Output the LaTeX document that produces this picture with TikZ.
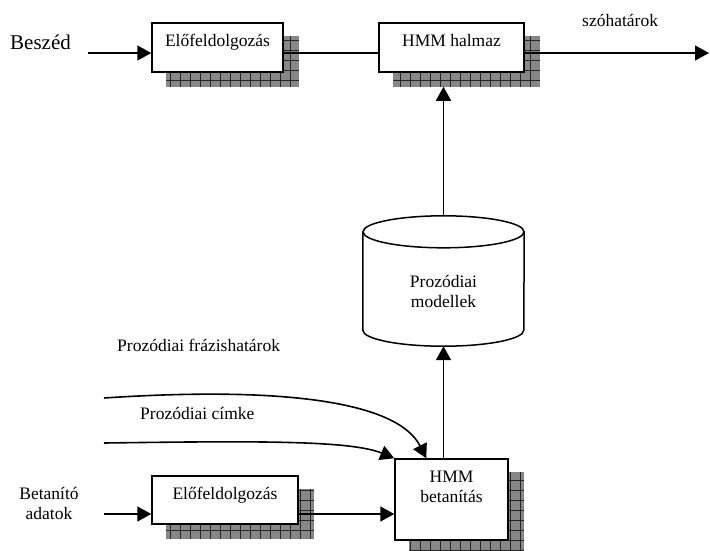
\documentclass[tikz,border=0pt]{standalone}
\usepackage{fontspec}
\setmainfont{Liberation Serif}
\usetikzlibrary{arrows.meta,calc,backgrounds}
\newcommand\mkshadow[1]{%
  \fill[shadowfill] ($(#1.south west)+(15,-14)$) rectangle ($(#1.north east)+(15,-14)$);
  \begin{scope}
    \clip ($(#1.south west)+(15,-14)$) rectangle ($(#1.north east)+(15,-14)$);
    \draw[gridl, step=10pt] ($(#1.south west)+(5,-24)$) grid ($(#1.north east)+(25,-4)$);
  \end{scope}}
\begin{document}
\begin{tikzpicture}[x=1pt,y=1pt,
  boxn/.style={draw, line width=1.5pt, fill=white, inner sep=0pt},
  txt/.style={inner sep=0pt, font=\fontsize{17.5}{20}\selectfont},
  big/.style={inner sep=0pt, font=\fontsize{21}{24}\selectfont},
  conn/.style={line width=1.6pt},
  arr/.style={line width=1.6pt, -{Triangle[length=14pt,width=15pt]}},
  shadowfill/.style={fill=black!47},
  gridl/.style={line width=0.6pt, draw=black!85}]
\useasboundingbox (0,0) rectangle (710,-550);

% boxes
\node[boxn, minimum width=131pt, minimum height=49pt] (pre1) at (217.5,-47.5) {};
\node[boxn, minimum width=145pt, minimum height=49pt] (hmm1) at (451.5,-47.5) {};
\node[boxn, minimum width=146pt, minimum height=48pt] (pre2) at (225,-500) {};
\node[boxn, minimum width=113pt, minimum height=81pt] (train) at (451.5,-499.5) {};

\begin{scope}[on background layer]
  \mkshadow{pre1}
  \mkshadow{hmm1}
  \mkshadow{pre2}
  \mkshadow{train}
\end{scope}

% box texts
\node[txt, anchor=base] (pre1t) at ($(pre1.north)+(0,-24)$) {Előfeldolgozás};
\node[txt, anchor=base] (hmm1t) at ($(hmm1.north)+(0,-24)$) {HMM halmaz};
\node[txt, anchor=base] (pre2t) at ($(pre2.north)+(0,-24)$) {Előfeldolgozás};
\node[txt, align=center] (traint) at (451.5,-486.5) {HMM\\betanítás};

% cylinder
\node[inner sep=0pt, minimum width=161pt, minimum height=130pt] (cyl) at (443.5,-281) {};
\draw[line width=1.5pt, fill=white] ($(cyl.north west)+(0,-16)$) -- ($(cyl.south west)+(0,16)$)
  arc[start angle=180, end angle=360, x radius=80.5pt, y radius=16pt] -- ($(cyl.north east)+(0,-16)$);
\draw[line width=1.5pt] ($(cyl.north)+(0,-16)$) ellipse[x radius=80.5pt, y radius=16pt];
\node[txt, align=center] (cylt) at (443.5,-291) {Prozódiai\\modellek};

% free texts
\node[big, anchor=base west] (besz) at (10,-49) {Beszéd};
\node[txt, anchor=base west] (szoh) at (582,-26) {szóhatárok};
\node[txt, anchor=base west] (fraz) at (117,-351) {Prozódiai frázishatárok};
\node[txt, anchor=base west] (cimke) at (140,-419) {Prozódiai címke};
\node[txt, align=center] (betan) at (49,-503) {Betanító\\adatok};

% free ends
\coordinate (inA) at (88,-53);
\coordinate (outA) at (709,-53);
\coordinate (inB) at (104,-514);
\coordinate (c1s) at (104,-398);
\coordinate (c2s) at (104,-443);
\coordinate (h1s) at ($(hmm1.south)+(0,-14)$);

% connectors
\draw[arr] (inA) -- (pre1.west |- inA);
\draw[conn] (pre1.east |- inA) -- (hmm1.west |- inA);
\draw[arr] (hmm1.east |- inA) -- (outA);
\draw[arr] (cyl.north) -- (cyl.north |- h1s);
\draw[arr] (cyl.south |- train.north) -- (cyl.south);
\draw[arr] (inB) -- (pre2.west |- inB);
\draw[arr] (pre2.east |- inB) -- (train.west |- inB);
\draw[arr] (c1s) .. controls (285,-386) and (398,-402) .. ($(train.north west)+(32,0)$);
\draw[arr] (c2s) .. controls (250,-441) and (350,-440) .. (train.north west);
\end{tikzpicture}
\end{document}
